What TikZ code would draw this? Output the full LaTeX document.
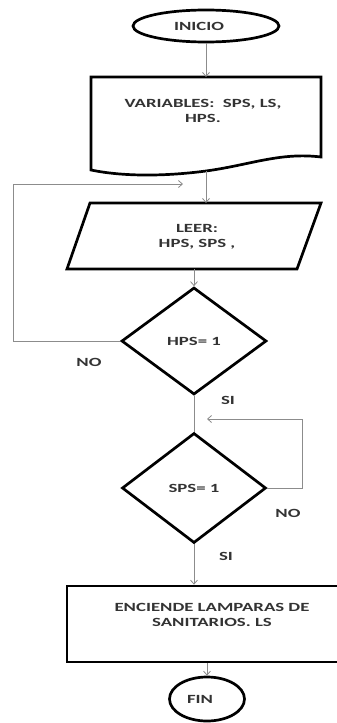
\documentclass[tikz,border=0pt]{standalone}
\usepackage{fontspec}
\setmainfont{Carlito}[FakeStretch=1.5]
\usetikzlibrary{shapes.geometric,arrows.meta}
\tikzset{
  outline/.style={draw=black, line width=2.7pt},
  conn/.style={draw=black!45, line width=0.8pt},
  arr/.style={conn, -{Straight Barb[length=4pt,width=7pt]}},
  lbl/.style={font=\bfseries\fontsize{12.5}{14.5}\selectfont, text=black!80, align=center, inner sep=0pt},
}
\begin{document}
\begin{tikzpicture}[x=1pt,y=-1pt]
\useasboundingbox (0,0) rectangle (337,723);
\clip (0,0) rectangle (337,723);
\fill[white] (0,0) rectangle (337,723);

% INICIO
\node[ellipse, outline, lbl, minimum width=146pt, minimum height=32pt] (inicio) at (206,26) {INICIO\kern14pt};

% document shape
\path[outline] (91,77) -- (321,77) -- (321,157)
  .. controls (280,152) and (250,165) .. (206,171)
  .. controls (160,177) and (120,176) .. (91,170) -- cycle;
\node[lbl] (var) at (203,111) {VARIABLES:\ \ SPS, LS,\\HPS.};
\coordinate (vtop) at (206,77);
\coordinate (vbot) at (206,171);

% parallelogram
\path[outline] (90,203) -- (321,203) -- (297,269) -- (67,269) -- cycle;
\node[lbl] (leer) at (197,237) {LEER:\\HPS, SPS ,};
\coordinate (ltop) at (206,203);
\coordinate (lbot) at (194,269);

% decisions
\node[diamond, outline, lbl, minimum width=145pt, minimum height=107pt] (hps) at (194,341) {HPS= 1};
\node[diamond, outline, lbl, minimum width=144pt, minimum height=110pt] (sps) at (194,488) {SPS= 1};

% process box
\node[rectangle, outline, minimum width=292pt, minimum height=76pt, inner sep=0pt] (enc) at (213,624) {};
\node[lbl] (enct) at (212,615) {ENCIENDE LAMPARAS DE\\SANITARIOS. LS};

% FIN
\node[ellipse, outline, lbl, minimum width=75pt, minimum height=44pt] (fin) at (207,699) {FIN\kern14pt};

% labels
\node[lbl] (no1) at (89,362) {NO};
\node[lbl] (si1) at (228,400) {SI};
\node[lbl] (no2) at (288,513) {NO};
\node[lbl] (si2) at (226,556) {SI};

% connectors
\draw[arr] (inicio.south) -- (vtop);
\draw[arr] (vbot) -- (ltop);
\draw[arr] (lbot) -- (hps.north);
\coordinate (l1) at (13,184);
\coordinate (l2) at (183,184);
\draw[arr] (hps.west) -| (l1) -- (l2);
\draw[conn] (hps.south) -- (sps.north);
\coordinate (s1) at (302,419);
\coordinate (s2) at (207,419);
\draw[arr] (sps.east) -| (s1) -- (s2);
\draw[arr] (sps.south) -- (sps.south |- enc.north);
\draw[arr] (enc.south -| fin.north) -- (fin.north);
\end{tikzpicture}
\end{document}
